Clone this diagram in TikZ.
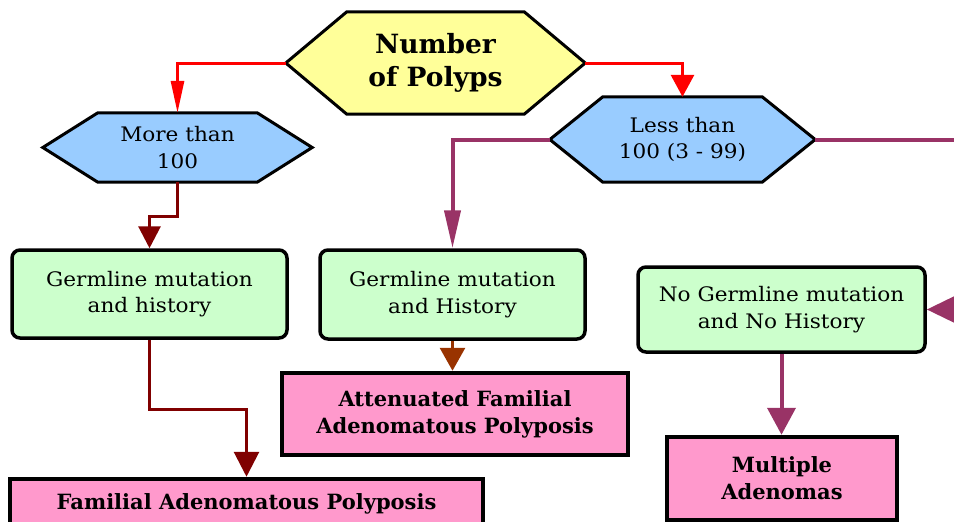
\documentclass[tikz,border=0pt]{standalone}
\usepackage{fontspec}
\setmainfont{DejaVu Serif}
\newfontfamily\lblfont{DejaVu Serif}[FakeStretch=1.08]
\newfontfamily\bldfont{DejaVu Serif Bold}
\usetikzlibrary{arrows.meta,calc,backgrounds}
\definecolor{hexyellow}{HTML}{FFFF99}
\definecolor{hexblue}{HTML}{99CCFF}
\definecolor{boxgreen}{HTML}{CCFFCC}
\definecolor{boxpink}{HTML}{FF99CC}
\definecolor{linered}{HTML}{FF0000}
\definecolor{linedarkred}{HTML}{800000}
\definecolor{linepurple}{HTML}{993366}
\definecolor{linebrown}{HTML}{993300}
\tikzset{
  hexnode/.style={minimum width=#1, inner sep=0pt, align=center},
  greenbox/.style={draw=black, line width=3.5pt, fill=boxgreen, rounded corners=8pt, inner sep=0pt, align=center, font=\lblfont\fontsize{20}{26.5}\selectfont},
  pinkbox/.style={draw=black, line width=4.5pt, fill=boxpink, inner sep=0pt, align=center, font=\bldfont\fontsize{21}{27}\selectfont},
  tip/.style 2 args={-{Triangle[width=#1pt,length=#2pt]}},
}
\begin{document}
\begin{tikzpicture}[x=1pt,y=-1pt]
\useasboundingbox (0,0) rectangle (954,522);
\clip (0,0) rectangle (954,522);
% hexagon decisions
\node[hexnode=299pt, minimum height=102pt, font=\bldfont\fontsize{26.5}{33}\selectfont] (top) at (435.5,63) {Number\\of Polyps};
\node[hexnode=269pt, minimum height=69pt, font=\lblfont\fontsize{20}{26.5}\selectfont] (more) at (177.5,147.5) {More than\\100};
\node[hexnode=265pt, minimum height=85pt, font=\lblfont\fontsize{20}{26.5}\selectfont] (less) at (682.5,139.5) {Less than\\100 (3 - 99)};
\begin{pgfonlayer}{background}
\draw[line width=3pt, fill=hexyellow]
  (top.west) -- ($(top.north west)+(61,0)$) -- ($(top.north east)+(-61,0)$) -- (top.east)
  -- ($(top.south east)+(-61,0)$) -- ($(top.south west)+(61,0)$) -- cycle;
\draw[line width=3pt, fill=hexblue]
  (more.west) -- ($(more.north west)+(55,0)$) -- ($(more.north east)+(-55,0)$) -- (more.east)
  -- ($(more.south east)+(-55,0)$) -- ($(more.south west)+(55,0)$) -- cycle;
\draw[line width=3pt, fill=hexblue]
  (less.west) -- ($(less.north west)+(53,0)$) -- ($(less.north east)+(-53,0)$) -- (less.east)
  -- ($(less.south east)+(-53,0)$) -- ($(less.south west)+(53,0)$) -- cycle;
\end{pgfonlayer}
% boxes
\node[greenbox, minimum width=275pt, minimum height=88pt] (box1) at (149.5,294) {Germline mutation\\and history};
\node[greenbox, minimum width=265pt, minimum height=89pt] (box2) at (452.5,294.5) {Germline mutation\\and History};
\node[greenbox, minimum width=287pt, minimum height=85pt] (box3) at (781.5,309.5) {No Germline mutation\\and No History};
\node[pinkbox, minimum width=346pt, minimum height=82pt] (afap) at (455,414) {Attenuated Familial\\Adenomatous Polyposis};
\node[pinkbox, minimum width=230pt, minimum height=83pt] (ma) at (782,478.5) {Multiple\\Adenomas};
\node[pinkbox, minimum width=473pt, minimum height=50pt] (fap) at (246.5,504) {Familial Adenomatous Polyposis};
\coordinate (offr) at (962,139.5);
% connectors
\draw[line width=3pt, linered, tip={13}{32}] (top.west) -| (more.north);
\draw[line width=3pt, linered, tip={23}{22}] (top.east) -| (less.north);
\draw[line width=3pt, linedarkred, tip={22}{22}] (more.south) -- ++(0,34) -| (box1.north);
\draw[line width=3pt, linedarkred, tip={25}{25}] (box1.south) -- ++(0,70) -| (fap.north);
\draw[line width=4pt, linepurple, tip={16}{38}] (less.west) -| (box2.north);
\draw[line width=4pt, linepurple] (less.east) -- (offr);
\draw[line width=4pt, linepurple, tip={25}{27}] (offr) |- (box3.east);
\draw[line width=3pt, linebrown, tip={25}{23}] (box2.south) -- (box2.south |- afap.north);
\draw[line width=4pt, linepurple, tip={28}{27}] (box3.south) -- (box3.south |- ma.north);
\end{tikzpicture}
\end{document}
